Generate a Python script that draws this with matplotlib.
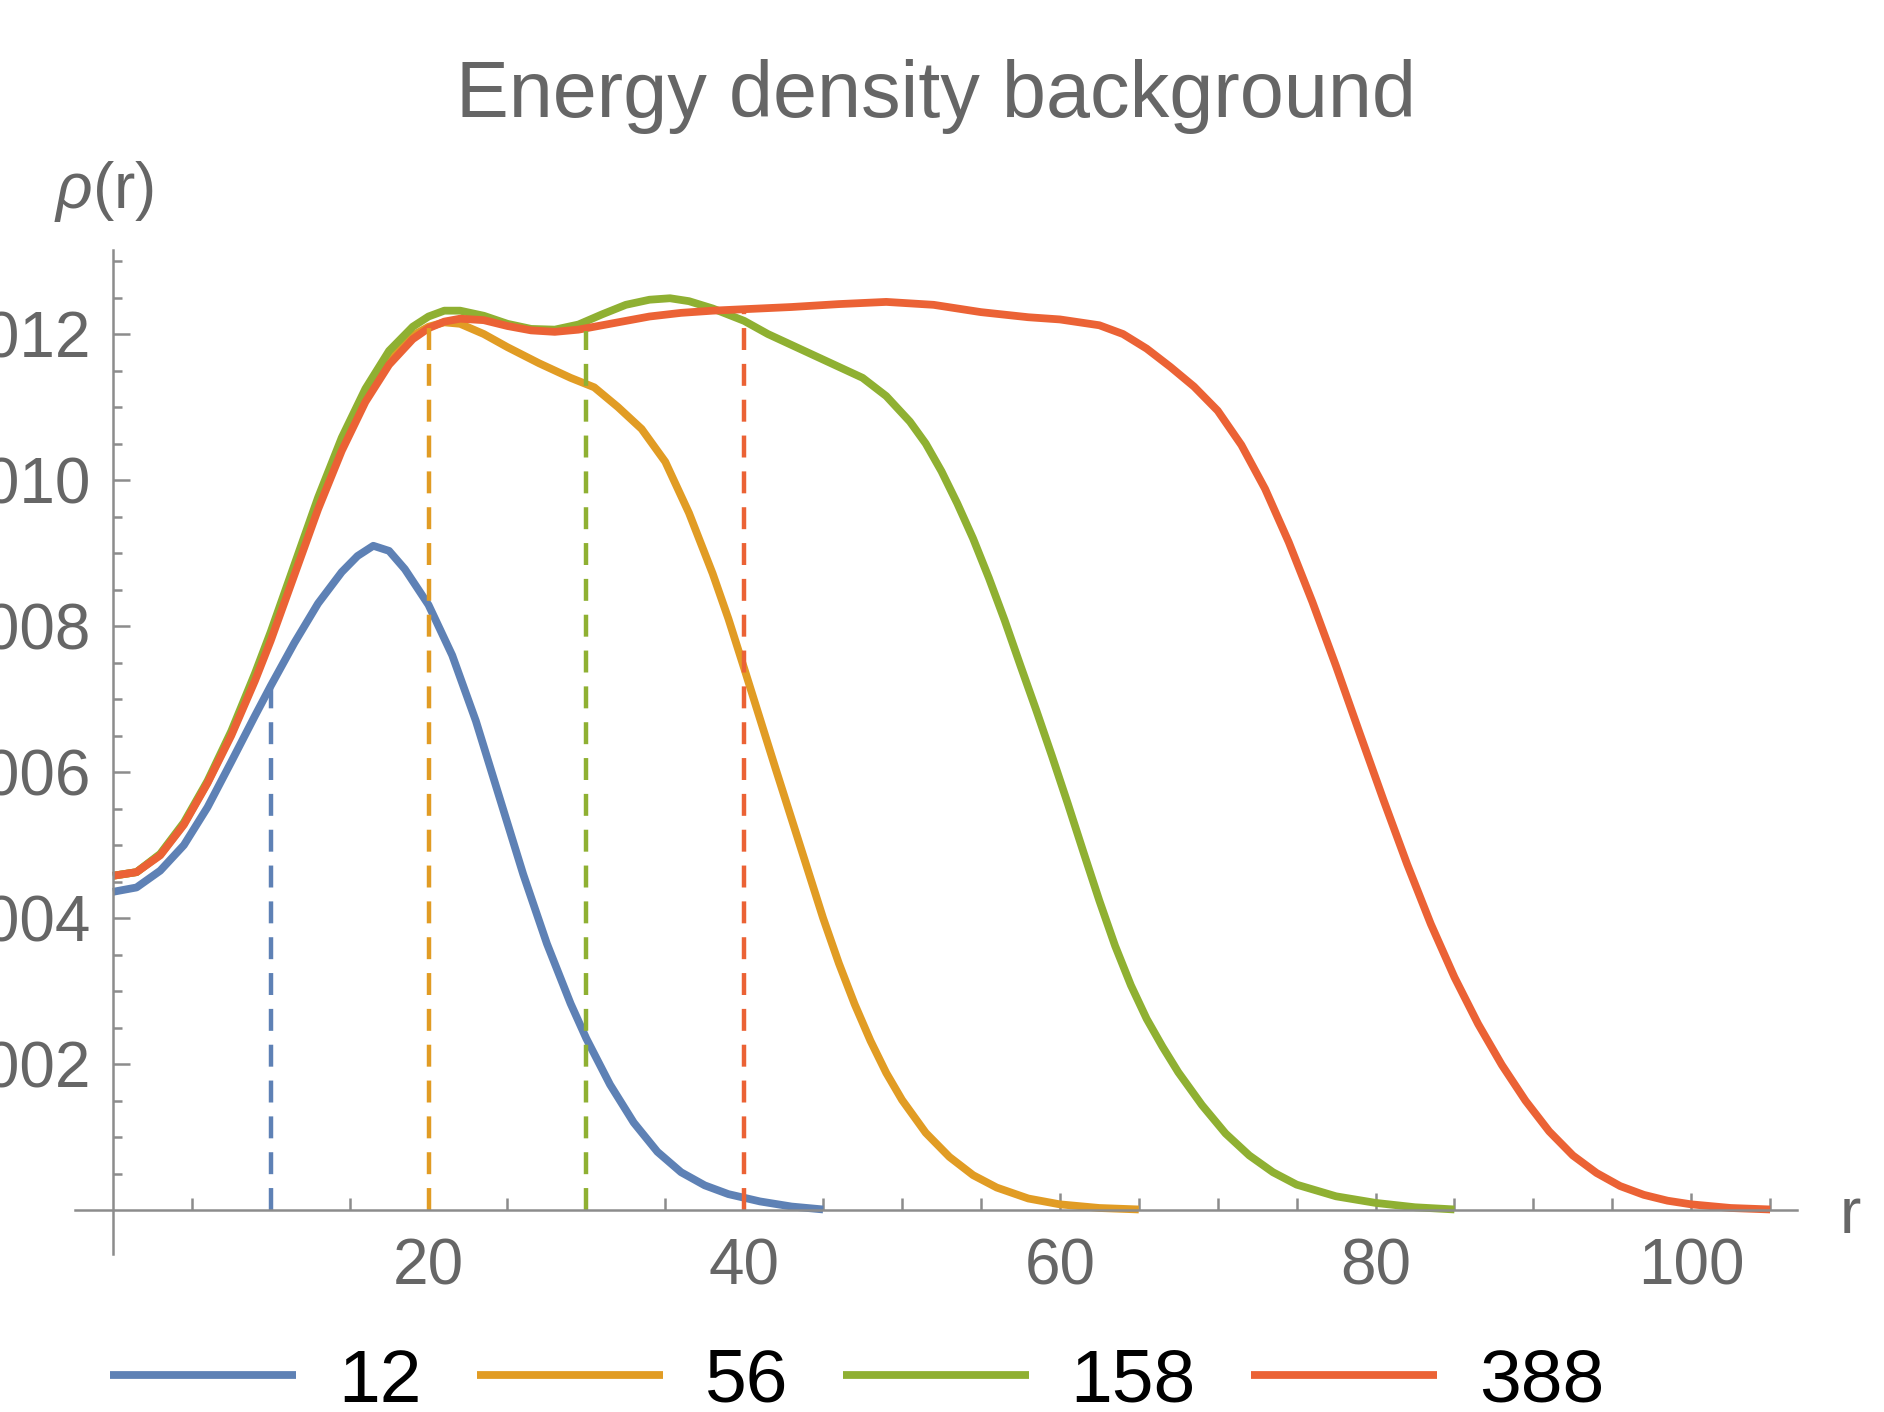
import matplotlib
matplotlib.use('Agg')
from matplotlib import pyplot as plt

plt.rcParams['font.family'] = ['Liberation Sans', 'DejaVu Sans']
plt.rcParams['mathtext.fontset'] = 'custom'
plt.rcParams['mathtext.it'] = 'Liberation Sans:italic'
plt.rcParams['mathtext.rm'] = 'Liberation Sans'
plt.rcParams['lines.scale_dashes'] = False

labels = ['12', '56', '158', '388']
colors = ['#5E81B5', '#E19C24', '#8FB032', '#EB6235']

# values
r_12 = [0, 1.5, 3, 4.5, 6, 7.5, 9, 10, 11.5, 13, 14.5, 15.5, 16.5, 17.5, 18.5,
        20, 21.5, 23, 24.5, 26, 27.5, 29, 30, 31.5, 33, 34.5, 36, 37.5, 39, 41,
        43, 45]
rho_12 = [0.000436, 0.000442, 0.000465, 0.000500, 0.000552, 0.000614, 0.000677,
          0.000718, 0.000777, 0.000831, 0.000874, 0.000896, 0.000910, 0.000903,
          0.000878, 0.000829, 0.000760, 0.000670, 0.000565, 0.000460, 0.000365,
          0.000283, 0.000235, 0.000172, 0.000120, 0.000080, 0.000052, 0.000034,
          0.000022, 0.000012, 0.000005, 0.000001]

r_56 = [0, 1.5, 3, 4.5, 6, 7.5, 9, 10, 11.5, 13, 14.5, 16, 17.5, 19, 20, 21, 22,
        23.5, 25, 27, 29, 30.5, 32, 33.5, 35, 36.5, 38, 39, 40, 41, 42, 43, 44,
        45, 46, 47, 48, 49, 50, 51.5, 53, 54.5, 56, 58, 60, 62.5, 65]
rho_56 = [0.000458, 0.000463, 0.000487, 0.000529, 0.000586, 0.000652, 0.000728,
          0.000784, 0.000875, 0.000966, 0.001047, 0.001113, 0.001163, 0.001198,
          0.001210, 0.001216, 0.001214, 0.001200, 0.001182, 0.001160, 0.001140,
          0.001127, 0.001100, 0.001070, 0.001025, 0.000955, 0.000872, 0.000810,
          0.000742, 0.000673, 0.000604, 0.000536, 0.000468, 0.000400, 0.000338,
          0.000282, 0.000232, 0.000188, 0.000151, 0.000106, 0.000073, 0.000048,
          0.000031, 0.000016, 0.000008, 0.000003, 0.000001]

r_158 = [0, 1.5, 3, 4.5, 6, 7.5, 9, 10, 11.5, 13, 14.5, 16, 17.5, 19, 20, 21, 22,
         23.5, 25, 26.5, 28, 29.5, 31, 32.5, 34, 35.3, 36.5, 38, 40, 41.5, 43,
         44.5, 46, 47.5, 49, 50.5, 51.5, 52.5, 53.5, 54.5, 55.5, 56.5, 57.5,
         58.5, 59.5, 60.5, 61.5, 62.5, 63.5, 64.5, 65.5, 66.5, 67.5, 69, 70.5,
         72, 73.5, 75, 77.5, 80, 82.5, 85]
rho_158 = [0.000458, 0.000463, 0.000488, 0.000531, 0.000588, 0.000656, 0.000735,
           0.000792, 0.000884, 0.000976, 0.001058, 0.001125, 0.001177, 0.001210,
           0.001224, 0.001232, 0.001232, 0.001225, 0.001214, 0.001207, 0.001206,
           0.001213, 0.001227, 0.001240, 0.001247, 0.001249, 0.001245, 0.001235,
           0.001218, 0.001200, 0.001185, 0.001170, 0.001155, 0.001140, 0.001115,
           0.001080, 0.001050, 0.001012, 0.000968, 0.000920, 0.000866, 0.000808,
           0.000746, 0.000685, 0.000622, 0.000557, 0.000490, 0.000424, 0.000362,
           0.000308, 0.000262, 0.000224, 0.000189, 0.000144, 0.000105, 0.000075,
           0.000052, 0.000035, 0.000019, 0.000010, 0.000004, 0.000001]

r_388 = [0, 1.5, 3, 4.5, 6, 7.5, 9, 10, 11.5, 13, 14.5, 16, 17.5, 19, 20, 21, 22,
         23.5, 25, 26.5, 28, 29.5, 31, 32.5, 34, 36, 38, 40, 43, 46, 49, 52, 55,
         58, 60, 62.5, 64, 65.5, 67, 68.5, 70, 71.5, 73, 74.5, 76, 77.5, 79, 80.5,
         82, 83.5, 85, 86.5, 88, 89.5, 91, 92.5, 94, 95.5, 97, 98.5, 100, 102.5,
         105]
rho_388 = [0.000458, 0.000463, 0.000486, 0.000528, 0.000585, 0.000650, 0.000725,
           0.000780, 0.000870, 0.000960, 0.001040, 0.001107, 0.001158, 0.001193,
           0.001208, 0.001217, 0.001221, 0.001219, 0.001211, 0.001205, 0.001203,
           0.001206, 0.001212, 0.001218, 0.001224, 0.001229, 0.001232, 0.001234,
           0.001237, 0.001241, 0.001244, 0.001240, 0.001230, 0.001223, 0.001220,
           0.001212, 0.001200, 0.001180, 0.001155, 0.001128, 0.001095, 0.001048,
           0.000988, 0.000915, 0.000833, 0.000745, 0.000653, 0.000562, 0.000474,
           0.000392, 0.000319, 0.000255, 0.000199, 0.000150, 0.000108, 0.000075,
           0.000051, 0.000033, 0.000021, 0.000013, 0.000008, 0.000003, 0.000001]

mark_r = [10, 20, 30, 40]
mark_rho = [0.000716, 0.001208, 0.001204, 0.001232]

x_major = [20, 40, 60, 80, 100]
x_minor = [5, 10, 15, 25, 30, 35, 45, 50, 55, 65, 70, 75, 85, 90, 95, 105]
y_major = [0.0002, 0.0004, 0.0006, 0.0008, 0.0010, 0.0012]
y_labels = ['0.0002', '0.0004', '0.0006', '0.0008', '0.0010', '0.0012']
y_minor = [i * 0.00005 for i in range(1, 27)]

series = [(r_12, rho_12), (r_56, rho_56), (r_158, rho_158), (r_388, rho_388)]

gray = '#8c8c8c'
txt = '#666666'

fig = plt.figure(figsize=(9.42, 7.06), dpi=200)
ax = fig.add_axes([0.0398, 0.1119, 0.914, 0.711])

handles = []
for (r, rho), c, lab in zip(series, colors, labels):
    ln, = ax.plot(r, rho, color=c, lw=2.8, label=lab, solid_joinstyle='round',
                  solid_capstyle='butt')
    handles.append(ln)

ax.vlines(mark_r, 0, mark_rho, colors=colors, linestyles=[(0, (7.9, 5.0))],
          lw=1.6)

ax.set_xlim(-2.4, 106.7)
ax.set_ylim(-0.00006, 0.001315)

for s in ['top', 'right']:
    ax.spines[s].set_visible(False)
ax.spines['left'].set_position(('data', 0))
ax.spines['bottom'].set_position(('data', 0))
for s in ['left', 'bottom']:
    ax.spines[s].set_color(gray)
    ax.spines[s].set_linewidth(0.9)

ax.set_xticks(x_major)
ax.set_xticks(x_minor, minor=True)
ax.set_yticks(y_major, labels=y_labels)
ax.set_yticks(y_minor, minor=True)

ax.tick_params(which='both', direction='in', color=gray, width=0.9,
               labelcolor=txt, labelsize=23)
ax.tick_params(axis='x', which='major', length=6.2, pad=10)
ax.tick_params(axis='x', which='minor', length=4.2)
ax.tick_params(axis='y', which='major', length=6.2, pad=8)
ax.tick_params(axis='y', which='minor', length=3.3)

fig.text(0.4968, 0.917, 'Energy density background', ha='center',
         va='baseline', fontsize=28.5, color=txt)
fig.text(0.0287, 0.853, r'$\rho$(r)', ha='left', va='baseline', fontsize=23,
         color=txt)
fig.text(0.9766, 0.1268, 'r', ha='left', va='baseline', fontsize=23, color=txt)

ax.legend(handles=handles, labels=labels, ncol=4, frameon=False, loc='center',
          bbox_to_anchor=(0.455, 0.0212), bbox_transform=fig.transFigure,
          fontsize=27, handlelength=2.48, handletextpad=0.56,
          columnspacing=0.73, borderpad=0, borderaxespad=0)

fig.savefig('out.png', dpi=200)
